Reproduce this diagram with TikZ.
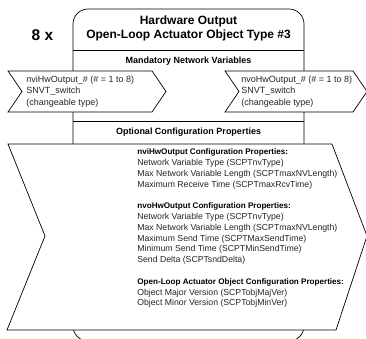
\documentclass[tikz,border=0pt]{standalone}
\usepackage{fontspec}
\setmainfont{Liberation Sans}
\usetikzlibrary{positioning}

\begin{document}
\begin{tikzpicture}[x=1pt,y=-1pt,line width=0.7pt]
\tikzstyle{heading}=[font=\bfseries\fontsize{9}{11}\selectfont,inner sep=0pt]
\tikzstyle{nvtext}=[font=\fontsize{9}{11.5}\selectfont,align=left,anchor=west,inner sep=0pt,text=black!85]
\tikzstyle{cptext}=[font=\fontsize{8.7}{10.8}\selectfont,align=left,anchor=north west,inner sep=0pt,text=black!85]
\tikzstyle{nvshape}=[draw=black,fill=white]
\newcommand{\cphead}[1]{\textcolor{black}{\fontsize{8.1}{10.8}\selectfont\bfseries #1}}
\useasboundingbox (0,0) rectangle (366,339);
% object box
\draw[rounded corners=15pt] (73,341) -- (73,9) -- (304,9) -- (304,341) -- cycle;
\draw (73,50) -- (304,50);
\draw (73,121.5) -- (304,121.5);
\node[font=\bfseries\fontsize{15.5}{18}\selectfont,inner sep=0pt] (count) at (42.5,35) {8 x};
\node[font=\bfseries\fontsize{12}{13.5}\selectfont,align=center,inner sep=0pt] (title) at (188.5,28.5)
  {Hardware Output\\Open-Loop Actuator Object Type \#3};
\node[heading] (mandatory) at (188.5,61) {Mandatory Network Variables};
% network variables
\draw[nvshape] (8,71) -- (152,71) -- (166,91.5) -- (152,112) -- (8,112) -- (22,91.5) -- cycle;
\draw[nvshape] (225,71) -- (353,71) -- (367,91.5) -- (353,112) -- (225,112) -- (239,91.5) -- cycle;
\node[nvtext] (nvi) at (26,91.5) {nviHwOutput\_\# (\# = 1 to 8)\\SNVT\_switch\\(changeable type)};
\node[nvtext] (nvo) at (241,91.5) {nvoHwOutput\_\# (\# = 1 to 8)\\SNVT\_switch\\(changeable type)};
\node[heading] (optional) at (188.5,132.5) {Optional Configuration Properties};
% configuration properties
\draw[nvshape] (8,144) -- (332,144) -- (367,236) -- (336,330) -- (7,330) -- (45,236) -- cycle;
\node[cptext] (props) at (137,148.5) {%
  \cphead{nviHwOutput Configuration Properties:}\\
  Network Variable Type (SCPTnvType)\\
  Max Network Variable Length (SCPTmaxNVLength)\\
  Maximum Receive Time (SCPTmaxRcvTime)\\[10.8pt]
  \cphead{nvoHwOutput Configuration Properties:}\\
  Network Variable Type (SCPTnvType)\\
  Max Network Variable Length (SCPTmaxNVLength)\\
  Maximum Send Time (SCPTMaxSendTime)\\
  Minimum Send Time (SCPTMinSendTime)\\
  Send Delta (SCPTsndDelta)\\[10.8pt]
  \cphead{Open-Loop Actuator Object Configuration Properties:}\\
  Object Major Version (SCPTobjMajVer)\\
  Object Minor Version (SCPTobjMinVer)};
\end{tikzpicture}
\end{document}
